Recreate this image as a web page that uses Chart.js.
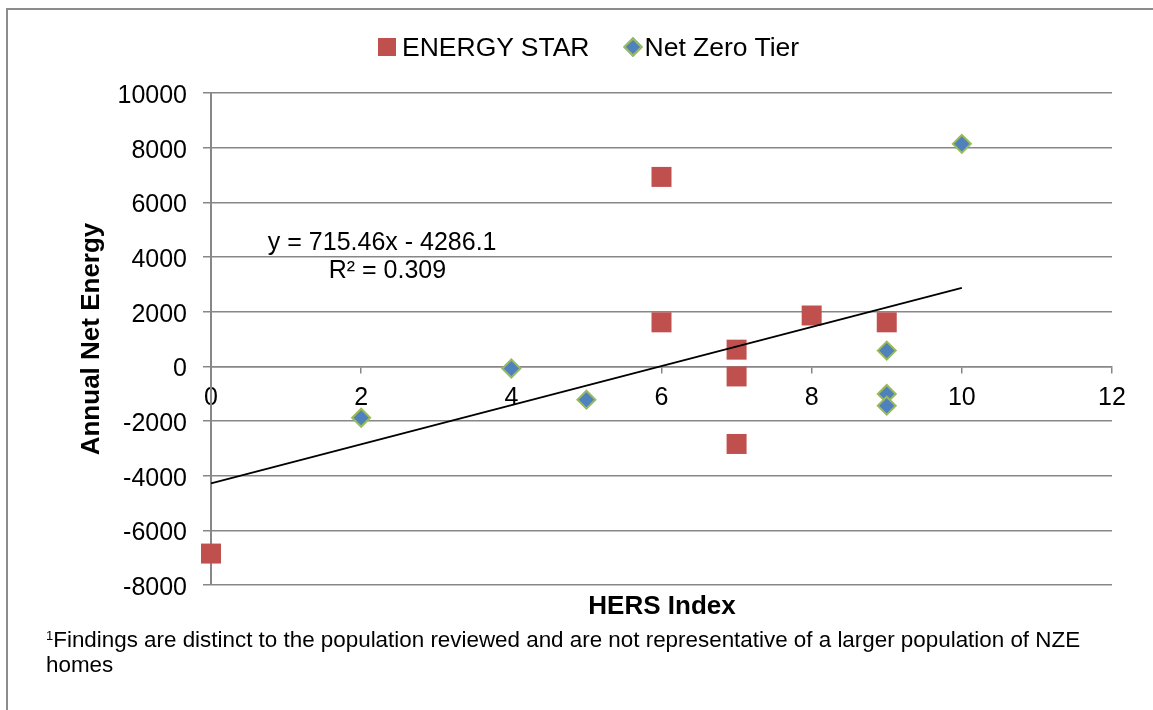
<!DOCTYPE html>
<html>
<head>
<meta charset="utf-8">
<script src="https://cdn.jsdelivr.net/npm/chart.js@4.4.0/dist/chart.umd.min.js"></script>
<style>
  body { margin: 0; background: #fff; font-family: "Liberation Sans", Arial, sans-serif; }
  #wrap { position: relative; width: 1153px; height: 710px; overflow: hidden; }
  #frame { position: absolute; left: 6px; top: 8px; width: 1200px; height: 800px;
           border-top: 2px solid #8c8c8c; border-left: 2px solid #8c8c8c; }
  canvas { position: absolute; left: 0; top: 0; }
  .legend { position: absolute; top: 32px; left: 378px; display: flex; align-items: center;
            font-size: 26.5px; color: #000; height: 30px; }
  .sq { width: 18px; height: 18px; background: #C0504D; margin-right: 6px; }
  .dm { width: 10px; height: 10px; background: #4F81BD; border: 2px solid #9BBB59;
        transform: rotate(45deg); margin-left: 36px; margin-right: 5px; }
  #xtitle { position: absolute; top: 590px; left: 212px; width: 900px; text-align: center;
            font-size: 26px; font-weight: bold; }
  #note { position: absolute; top: 627px; left: 46px; width: 1080px; font-size: 22.4px; line-height: 25px; }
  #note sup { font-size: 13px; vertical-align: 7px; line-height: 0; }
</style>
</head>
<body>
<div id="wrap">
  <div id="frame"></div>
  <canvas id="chart" width="1153" height="710"></canvas>
  <div class="legend"><div class="sq"></div><span>ENERGY STAR</span><div class="dm"></div><span>Net Zero Tier</span></div>
  <div id="xtitle">HERS Index</div>
  <div id="note"><sup>1</sup>Findings are distinct to the population reviewed and are not representative of a larger population of NZE homes</div>
</div>
<script>
// valores
const hersEnergyStar = [0, 6, 6, 7, 7, 7, 8, 9];
const netEnergyStar = [-6850, 6930, 1610, 610, -370, -2840, 1860, 1610];

const hersNetZero = [2, 4, 5, 9, 9, 9, 10];
const netNetZero = [-1880, -80, -1220, 575, -1010, -1440, 8140];

// linha de tendência (y = 715.46x - 4286.1)
const trendX = [0, 10];
const trendY = [-4286.1, 2868.5];
const trendLabels = ["y = 715.46x - 4286.1", "R\u00b2 = 0.309"];

const yTicks = [-8000, -6000, -4000, -2000, 0, 2000, 4000, 6000, 8000, 10000];
const xTicks = [0, 2, 4, 6, 8, 10, 12];

const toPoints = (xs, ys) => xs.map((x, i) => ({ x: x, y: ys[i] }));

const gridGray = "#878787";
Chart.defaults.font.family = '"Liberation Sans", Arial, sans-serif';
Chart.defaults.color = "#000";

// escreve a equação da tendência no gráfico
const trendText = {
  id: "trendText",
  afterDatasetsDraw(chart) {
    const { ctx, scales } = chart;
    ctx.save();
    ctx.font = '25px "Liberation Sans", Arial, sans-serif';
    ctx.fillStyle = "#000";
    ctx.textAlign = "center";
    ctx.textBaseline = "middle";
    ctx.fillText(trendLabels[0], scales.x.getPixelForValue(2.28), scales.y.getPixelForValue(4500));
    ctx.fillText(trendLabels[1], scales.x.getPixelForValue(2.35), scales.y.getPixelForValue(3470));
    ctx.restore();
  },
};

new Chart(document.getElementById("chart"), {
  type: "scatter",
  data: {
    datasets: [
      {
        label: "Linear",
        type: "line",
        data: toPoints(trendX, trendY),
        borderColor: "#000",
        borderWidth: 1.8,
        pointRadius: 0,
        fill: false,
        clip: false,
        order: 0,
      },
      {
        label: "ENERGY STAR",
        data: toPoints(hersEnergyStar, netEnergyStar),
        pointStyle: "rect",
        pointRadius: 14.14,
        backgroundColor: "#C0504D",
        borderWidth: 0,
        clip: false,
        order: 2,
      },
      {
        label: "Net Zero Tier",
        data: toPoints(hersNetZero, netNetZero),
        pointStyle: "rectRot",
        pointRadius: 9,
        backgroundColor: "#4F81BD",
        borderColor: "#9BBB59",
        borderWidth: 2,
        clip: false,
        order: 1,
      },
    ],
  },
  options: {
    responsive: false,
    animation: false,
    layout: { padding: { top: 93, right: 41, bottom: 125, left: 0 } },
    plugins: { legend: { display: false }, tooltip: { enabled: false } },
    scales: {
      x: {
        type: "linear",
        position: { y: 0 },
        min: 0,
        max: 12,
        afterBuildTicks: (s) => { s.ticks = xTicks.map((v) => ({ value: v })); },
        afterFit: (s) => { s.height = 0; },
        ticks: { font: { size: 25 }, padding: 11, maxRotation: 0, callback: (v) => String(v) },
        grid: { drawOnChartArea: false, color: gridGray, lineWidth: 1.5, tickLength: 6 },
        border: { color: gridGray, width: 1.5 },
      },
      y: {
        min: -8000,
        max: 10000,
        afterBuildTicks: (s) => { s.ticks = yTicks.map((v) => ({ value: v })); },
        afterFit: (s) => { s.width = 211; },
        ticks: { font: { size: 25 }, padding: 16, labelOffset: 3, callback: (v) => String(v) },
        grid: { color: gridGray, lineWidth: 1.5, tickLength: 8 },
        border: { color: gridGray, width: 2 },
        title: {
          display: true,
          text: "Annual Net Energy",
          font: { size: 26, weight: "bold" },
          padding: { top: 76, bottom: 0 },
        },
      },
    },
  },
  plugins: [trendText],
});
</script>
</body>
</html>
